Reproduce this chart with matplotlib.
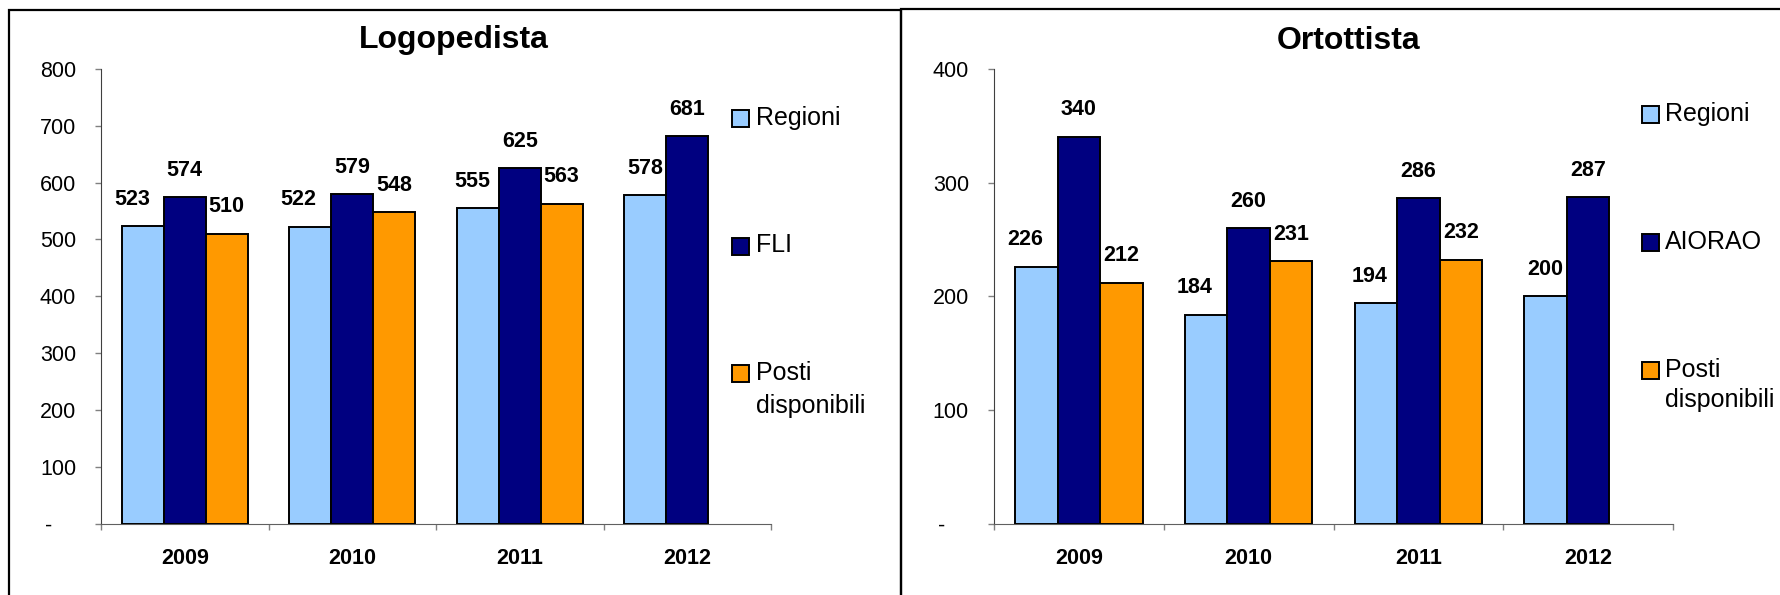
import numpy as np
import matplotlib.pyplot as plt
from matplotlib.patches import Rectangle

plt.rcParams['font.family'] = ['Liberation Sans', 'DejaVu Sans']

# data
years = ['2009', '2010', '2011', '2012']
logo_regioni = [523, 522, 555, 578]
logo_fli = [574, 579, 625, 681]
logo_posti = [510, 548, 563, np.nan]
orto_regioni = [226, 184, 194, 200]
orto_aiorao = [340, 260, 286, 287]
orto_posti = [212, 231, 232, np.nan]

c_reg = '#99CCFF'
c_ass = '#000080'
c_pos = '#FF9900'

W, H = 1780, 595
PT = 0.72  # px -> pt at dpi 100

fig = plt.figure(figsize=(W / 100, H / 100), dpi=100)
fig.patch.set_facecolor('white')


def px(x, y):
    return x / W, 1 - y / H


# nudge of the Regioni labels (px), as in the original sheet
reg_nudge = [-11, -12, -6, 0]


def panel(ax_left, ax_width, series, colors, ymax, title, title_x, title_y,
          leg_sq_x, leg_txt_x, leg_base, leg_step, leg_line):
    ax = fig.add_axes([ax_left / W, 1 - 524 / H, ax_width / W, (524 - 68.7) / H])
    x = np.arange(len(years))
    w = 0.25
    for k, ((name, vals), col) in enumerate(zip(series, colors)):
        pos = x + (k - 1) * w
        ax.bar(pos, vals, w, color=col, edgecolor='black', linewidth=1.4, zorder=3)
        for i, (p, v) in enumerate(zip(pos, vals)):
            if np.isnan(v):
                continue
            dx = reg_nudge[i] * PT if k == 0 else 0
            ax.annotate(f'{int(v)}', (p, v), xytext=(dx, 27 * PT), textcoords='offset points',
                        ha='center', va='center', fontsize=15.5, fontweight='bold')
    ax.set_xlim(-0.5, len(years) - 0.5)
    ax.set_ylim(0, ymax)
    ticks = np.arange(0, ymax + 1, 100)
    ax.set_yticks(ticks)
    ax.set_yticklabels(['-    '] + [str(t) for t in ticks[1:]], fontsize=15.5)
    ax.tick_params(axis='y', length=6 * PT, width=1, color='#808080', pad=19 * PT)
    ax.set_xticks(x)
    ax.set_xticklabels(years, fontsize=15.5, fontweight='bold')
    ax.set_xticks(np.arange(-0.5, len(years)), minor=True)
    ax.tick_params(axis='x', which='major', length=0, pad=24 * PT)
    ax.tick_params(axis='x', which='minor', length=6 * PT, width=1, color='#808080')
    for s in ['top', 'right']:
        ax.spines[s].set_visible(False)
    ax.spines['left'].set_color('#404040')
    ax.spines['bottom'].set_color('#606060')
    ax.set_facecolor('none')

    fx, fy = px(title_x, title_y)
    fig.text(fx, fy, title, ha='center', va='baseline', fontsize=23, fontweight='bold')

    # legend
    for k, ((name, vals), col) in enumerate(zip(series, colors)):
        b = leg_base + k * leg_step
        sx, sy = px(leg_sq_x, b + 2)
        fig.patches.append(Rectangle((sx, sy), 17 / W, 17 / H, transform=fig.transFigure,
                                     facecolor=col, edgecolor='black', linewidth=1.4))
        for j, line in enumerate(name.split('\n')):
            tx, ty = px(leg_txt_x, b + j * leg_line)
            fig.text(tx, ty, line, ha='left', va='baseline', fontsize=18)
    return ax


panel(101, 670,
      [('Regioni', logo_regioni), ('FLI', logo_fli), ('Posti\ndisponibili', logo_posti)],
      [c_reg, c_ass, c_pos], 800, 'Logopedista', 453.7, 48,
      732, 756, 125, 127.5, 33)

panel(994, 679,
      [('Regioni', orto_regioni), ('AIORAO', orto_aiorao), ('Posti\ndisponibili', orto_posti)],
      [c_reg, c_ass, c_pos], 400, 'Ortottista', 1348.5, 49,
      1642, 1665, 121, 128, 30)

# panel frames
x0, y0 = px(9, 700)
x1, y1 = px(901, 10)
fig.patches.append(Rectangle((x0, y0), x1 - x0, y1 - y0, transform=fig.transFigure,
                             fill=False, edgecolor='black', linewidth=1.6))
x0, y0 = px(901, 700)
x1, y1 = px(1800, 9)
fig.patches.append(Rectangle((x0, y0), x1 - x0, y1 - y0, transform=fig.transFigure,
                             fill=False, edgecolor='black', linewidth=1.6))

fig.savefig('out.png', dpi=100)
